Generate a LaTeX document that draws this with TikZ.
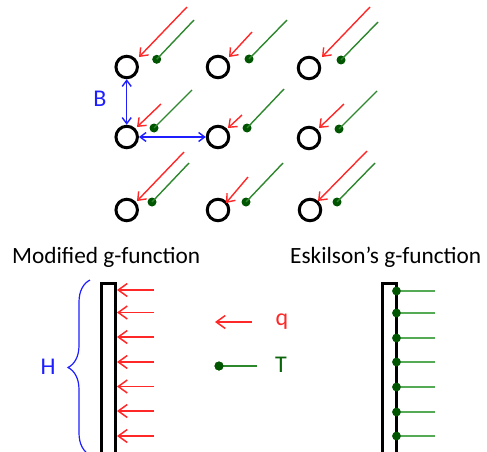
\documentclass[tikz,border=0pt]{standalone}
\usepackage{fontspec}
\setmainfont{Carlito}
\usetikzlibrary{arrows.meta,decorations.pathreplacing}
\definecolor{myred}{RGB}{255,40,40}
\definecolor{mygreen}{RGB}{45,135,45}
\definecolor{dotgreen}{RGB}{0,85,0}
\definecolor{lightgreen}{RGB}{85,170,85}
\definecolor{myblue}{RGB}{30,30,255}
\definecolor{tgreen}{RGB}{10,100,10}
\begin{document}
\begin{tikzpicture}[x=1pt,y=-1pt,
  well/.style={circle,draw=black,line width=3pt,minimum size=21.5pt,inner sep=0pt},
  qarrow/.style={myred,line width=1.4pt,-{Straight Barb[length=7pt,width=11pt]}},
  bigq/.style={myred,line width=1.5pt,-{Straight Barb[length=9pt,width=13pt]}},
  tline/.style={mygreen,line width=1.4pt},
  tlinelight/.style={lightgreen,line width=1.5pt},
  tdot/.style={circle,fill=dotgreen,inner sep=0pt,minimum size=9pt},
  barrow/.style={myblue,line width=1.4pt,{Straight Barb[length=6pt,width=9pt]}-{Straight Barb[length=6pt,width=9pt]}},
  pipe/.style={draw=black,line width=3.2pt,fill=white,minimum width=14pt,minimum height=200pt,inner sep=0pt,anchor=north},
  title/.style={anchor=base west,inner sep=0pt,font=\fontsize{23.3}{28}\selectfont},
  lbl/.style={inner sep=0pt,font=\fontsize{24}{28}\selectfont}]
\useasboundingbox (0,0) rectangle (487,452);

% wells and their q / T markers
\foreach \n/\cx/\cy/\rsx/\rsy/\rex/\rey/\gsx/\gsy/\gdx/\gdy in {
  11/126.7/67/187/7/139/57/194/20/156.7/59.3,
  12/218/67/252/32/229/57/287/20/249/59,
  13/309/68/370/7/322/57/378/22/341/60,
  21/126.7/137/161/104/137/127/192/90/154/128,
  22/218/137/242/115/228/128/284/89/247/128,
  23/309/138/344/104/319/128/377/91/339/129,
  31/126.7/210/184/152/137/201/189/163/152/202,
  32/218/210/248/177/226/203/283/163/246/202,
  33/310/210/367/151/318/201/375/163/337/202}{
  \node[well] (c\n) at (\cx,\cy) {};
  \coordinate (rs\n) at (\rsx,\rsy);
  \coordinate (re\n) at (\rex,\rey);
  \coordinate (gs\n) at (\gsx,\gsy);
  \node[tdot] (gd\n) at (\gdx,\gdy) {};
  \draw[qarrow] (rs\n) -- (re\n);
  \draw[tline] (gs\n) -- (gd\n.center);
}

% spacing B
\draw[barrow] (c11.south) -- (c21.north);
\draw[barrow] (c21.east) -- (c22.west);
\node[lbl,text=myblue] (B) at (100,99) {B};

% titles
\node[title] (t1) at (12,263) {Modified g-function};
\node[title] (t2) at (290,263) {Eskilson’s g-function};

% pipes
\begin{scope}
\clip (0,0) rectangle (487,452);
\node[pipe] (lp) at (108.5,281.5) {};
\node[pipe] (rp) at (389.5,281.5) {};
\end{scope}

% modified: heat flux arrows
\foreach \i/\y in {1/290,2/312.5,3/337,4/362,5/386.5,6/411,7/436}{
  \coordinate (qs\i) at (154,\y);
  \coordinate (qe\i) at (117,\y);
  \draw[bigq] (qs\i) -- (qe\i);
}

% Eskilson: temperature points
\foreach \i/\y in {1/291,2/313,3/338,4/362,5/387,6/412,7/436}{
  \node[tdot,minimum size=8.5pt] (ed\i) at (396.5,\y) {};
  \coordinate (ee\i) at (435,\y);
  \draw[tlinelight] (ed\i.center) -- (ee\i);
  \node[tdot,minimum size=8.5pt] at (ed\i) {};
}

% brace H
\coordinate (bb) at (90,455);
\coordinate (bt) at (90,280);
\draw[myblue,line width=1.2pt,decorate,decoration={brace,amplitude=22pt}] (bb) -- (bt);
\node[lbl,text=myblue] (H) at (48,367) {H};

% legend
\coordinate (lqs) at (252,322);
\coordinate (lqe) at (215,322);
\draw[bigq] (lqs) -- (lqe);
\node[lbl,text=myred] (q) at (282,322) {q};
\node[tdot] (ld) at (219,366) {};
\coordinate (lte) at (257,366);
\draw[tline] (ld.center) -- (lte);
\node[tdot] at (ld) {};
\node[lbl,text=tgreen] (T) at (281,365) {T};
\end{tikzpicture}
\end{document}
